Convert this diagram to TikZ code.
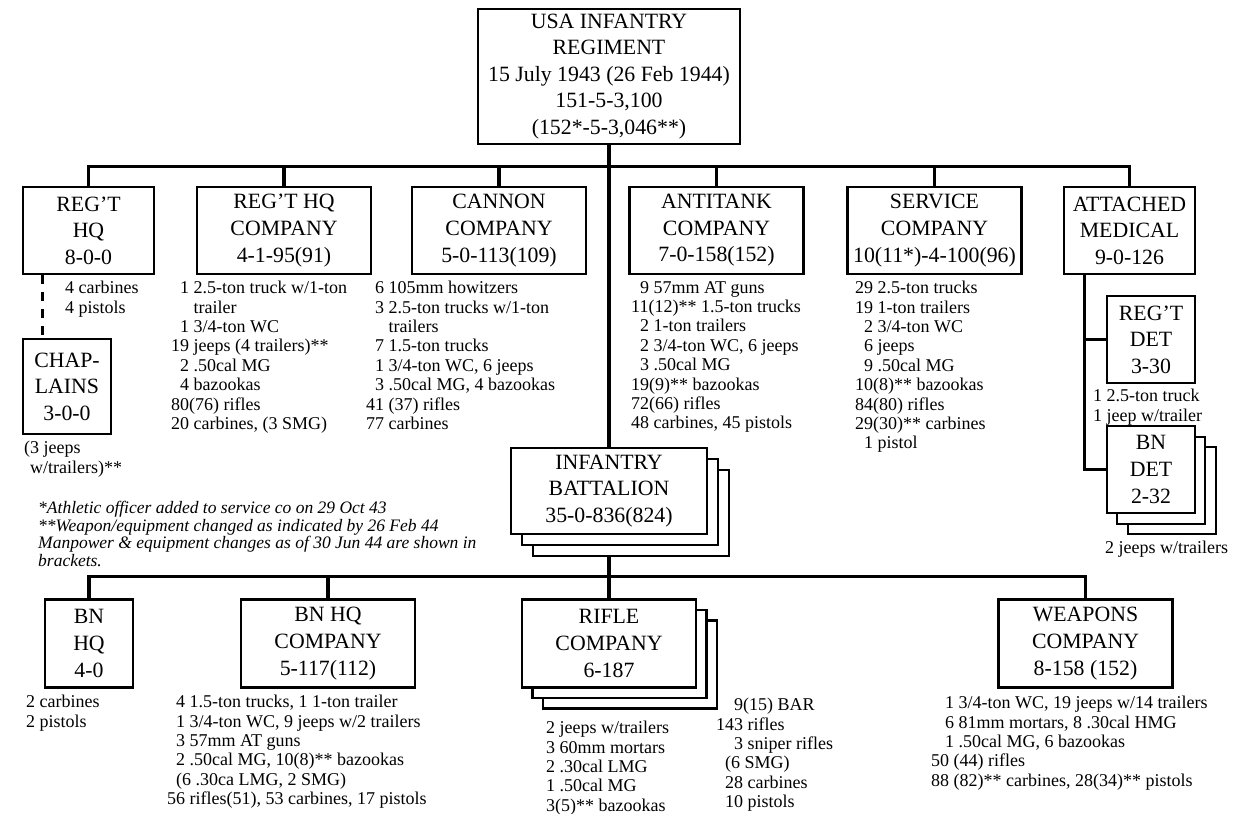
\documentclass[tikz,border=0pt]{standalone}
\usepackage{fontspec}
\setmainfont{Liberation Serif}
\usetikzlibrary{backgrounds,calc}
\newcommand\dg{\hphantom{0}}
\begin{document}
\begin{tikzpicture}[x=1pt,y=-1pt,
  box/.style={draw, line width=2.5pt, fill=white, align=center, inner sep=0pt,
    font=\fontsize{21.8}{26.6}\selectfont},
  bsm/.style={box, minimum width=88pt, minimum height=87pt},
  bmd/.style={box, minimum width=131pt, minimum height=87pt},
  blg/.style={box, minimum width=174pt, minimum height=87pt},
  lst/.style={anchor=north west, inner sep=0pt, align=left,
    font=\fontsize{18}{19.4}\selectfont},
  conn/.style={line width=3.2pt},
]
\useasboundingbox (0,0) rectangle (1243,814);

% top
\node[box, minimum width=262pt, minimum height=135pt] (reg) at (609,76.5)
  {USA INFANTRY\\REGIMENT\\15 July 1943 (26 Feb 1944)\\151-5-3,100\\(152*-5-3,046**)};

% row 1
\node[bmd] (rhq)   at (88.5,230.5)  {REG’T\\HQ\\8-0-0};
\node[blg] (rhqco) at (284,230.5)   {REG’T HQ\\COMPANY\\4-1-95(91)};
\node[blg] (can)   at (499,230.5)   {CANNON\\COMPANY\\5-0-113(109)};
\node[blg] (atk)   at (716.5,230.5) {ANTITANK\\COMPANY\\7-0-158(152)};
\node[blg] (svc)   at (934.5,230.5) {SERVICE\\COMPANY\\10(11*)-4-100(96)};
\node[bmd] (med)   at (1129.5,230.5){ATTACHED\\MEDICAL\\9-0-126};

\node[bsm, minimum height=95pt] (chap) at (67,386.5) {CHAP-\\LAINS\\3-0-0};
\node[bsm] (rdet) at (1151,339.5) {REG’T\\DET\\3-30};
\node[bsm] (bdet3) at (1172,490.5) {};
\node[bsm] (bdet2) at (1161,480.5) {};
\node[bsm] (bdet)  at (1151,469.5) {BN\\DET\\2-32};

% infantry battalion
\node[box, minimum width=196pt, minimum height=86pt] (ib3) at (631,513) {};
\node[box, minimum width=196pt, minimum height=86pt] (ib2) at (620,502) {};
\node[box, minimum width=196pt, minimum height=86pt] (ib)  at (609,491)
  {INFANTRY\\BATTALION\\35-0-836(824)};

% lower row
\node[bsm, minimum height=88pt] (bnhq)   at (89,643.5)  {BN\\HQ\\4-0};
\node[blg, minimum height=88pt] (bnhqco) at (328,643.5) {BN HQ\\COMPANY\\5-117(112)};
\node[blg, minimum height=88pt] (rc3) at (630,664.5) {};
\node[blg, minimum height=88pt] (rc2) at (619.5,654) {};
\node[blg, minimum height=88pt] (rc)  at (609,643.5) {RIFLE\\COMPANY\\6-187};
\node[blg, minimum height=88pt] (wpn) at (1085.5,643.5) {WEAPONS\\COMPANY\\8-158 (152)};

% connectors
\begin{scope}[on background layer={conn}]
  \draw (reg.south) -- (rc.north);
  \foreach \n in {rhq,rhqco,can,atk,svc,med}
    \draw (reg.south) -- ++(0,21) -| (\n.north);
  \coordinate (dtop) at ($(rhq.south west)+(21,0)$);
  \draw[dash pattern=on 9pt off 8pt] (dtop) -- (dtop |- chap.north);
  \coordinate (mtap) at ($(med.south west)+(22,0)$);
  \draw (mtap) |- (bdet.west);
  \draw (rdet.west) -- (rdet.west -| mtap);
  \foreach \n in {bnhq,bnhqco,wpn}
    \draw (rc.north) -- ++(0,-22) -| (\n.north);
\end{scope}

% lists
\node[lst] (lrhq) at (65,281) {4 carbines\\4 pistols};
\node[lst] (lrhqco) at (171,281) {\dg1 2.5-ton truck w/1-ton\\
  \dg\hphantom{1 }trailer\\
  \dg1 3/4-ton WC\\
  19 jeeps (4 trailers)**\\
  \dg2 .50cal MG\\
  \dg4 bazookas\\
  80(76) rifles\\
  20 carbines, (3 SMG)};
\node[lst] (lcan) at (366,281) {\dg6 105mm howitzers\\
  \dg3 2.5-ton trucks w/1-ton\\
  \dg\hphantom{3 }trailers\\
  \dg7 1.5-ton trucks\\
  \dg1 3/4-ton WC, 6 jeeps\\
  \dg3 .50cal MG, 4 bazookas\\
  41 (37) rifles\\
  77 carbines};
\node[lst] (latk) at (631,281) {\dg9 57mm AT guns\\
  11(12)** 1.5-ton trucks\\
  \dg2 1-ton trailers\\
  \dg2 3/4-ton WC, 6 jeeps\\
  \dg3 .50cal MG\\
  19(9)** bazookas\\
  72(66) rifles\\
  48 carbines, 45 pistols};
\node[lst] (lsvc) at (855,281) {29 2.5-ton trucks\\
  19 1-ton trailers\\
  \dg2 3/4-ton WC\\
  \dg6 jeeps\\
  \dg9 .50cal MG\\
  10(8)** bazookas\\
  84(80) rifles\\
  29(30)** carbines\\
  \dg1 pistol};
\node[lst] (lchap) at (24,441) {(3 jeeps\\\hphantom{(}w/trailers)**};
\node[lst] (lrdet) at (1093,389) {1 2.5-ton truck\\1 jeep w/trailer};
\node[lst] (lbdet) at (1105,541) {2 jeeps w/trailers};

\node[lst, font=\fontsize{17.5}{17.7}\selectfont\itshape] (notes) at (38,501)
  {*Athletic officer added to service co on 29 Oct 43\\
   **Weapon/equipment changed as indicated by 26 Feb 44\\
   Manpower \& equipment changes as of 30 Jun 44 are shown in\\
   brackets.};

\node[lst] (lbnhq) at (26,695) {2 carbines\\2 pistols};
\node[lst] (lbnhqco) at (167,695) {\dg4 1.5-ton trucks, 1 1-ton trailer\\
  \dg1 3/4-ton WC, 9 jeeps w/2 trailers\\
  \dg3 57mm AT guns\\
  \dg2 .50cal MG, 10(8)** bazookas\\
  \dg(6 .30ca LMG, 2 SMG)\\
  56 rifles(51), 53 carbines, 17 pistols};
\node[lst] (lrc1) at (546,721) {2 jeeps w/trailers\\
  3 60mm mortars\\
  2 .30cal LMG\\
  1 .50cal MG\\
  3(5)** bazookas};
\node[lst] (lrc2) at (716,698) {\dg\dg9(15) BAR\\
  143 rifles\\
  \dg\dg3 sniper rifles\\
  \dg(6 SMG)\\
  \dg28 carbines\\
  \dg10 pistols};
\node[lst] (lwpn) at (931,696) {\hspace*{14pt}1 3/4-ton WC, 19 jeeps w/14 trailers\\
  \hspace*{14pt}6 81mm mortars, 8 .30cal HMG\\
  \hspace*{14pt}1 .50cal MG, 6 bazookas\\
  50 (44) rifles\\
  88 (82)** carbines, 28(34)** pistols};
\end{tikzpicture}
\end{document}
